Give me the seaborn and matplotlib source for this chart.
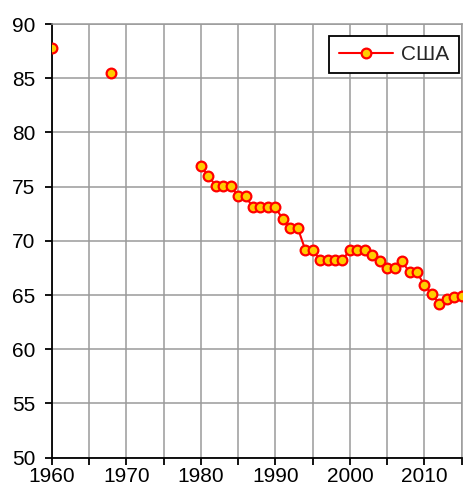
import pandas as pd
import seaborn as sns
import matplotlib
matplotlib.use("Agg")
import matplotlib.pyplot as plt
from matplotlib.ticker import MultipleLocator, FuncFormatter

# data
years = [1960, 1968,
         1980, 1981, 1982, 1983, 1984, 1985, 1986, 1987, 1988, 1989,
         1990, 1991, 1992, 1993, 1994, 1995, 1996, 1997, 1998, 1999,
         2000, 2001, 2002, 2003, 2004, 2005, 2006, 2007, 2008, 2009,
         2010, 2011, 2012, 2013, 2014, 2015]
values = [87.8, 85.5,
          76.9, 76.0, 75.1, 75.1, 75.1, 74.1, 74.1, 73.1, 73.1, 73.1,
          73.1, 72.0, 71.2, 71.2, 69.2, 69.2, 68.2, 68.2, 68.2, 68.2,
          69.2, 69.2, 69.2, 68.7, 68.1, 67.5, 67.5, 68.1, 67.1, 67.1,
          65.9, 65.1, 64.2, 64.6, 64.8, 64.95]
# segments: gaps in the record are not joined by the line
segments = [0, 1] + [2] * 36
series_name = "США"

df = pd.DataFrame({"Год": years, "Значение": values, "seg": segments})

sns.set_style("white")
plt.rcParams['font.family'] = ['Liberation Sans', 'DejaVu Sans']

fig = plt.figure(figsize=(4.63, 4.92), dpi=100)
ax = fig.add_axes([0.1117, 0.0697, 0.8855, 0.8815])

sns.lineplot(data=df, x="Год", y="Значение", units="seg", estimator=None,
             color="#FF0000", linewidth=1.5, marker="o", markersize=7,
             markerfacecolor="#FFCC00", markeredgecolor="#FF0000",
             markeredgewidth=1.6, ax=ax, zorder=3)

ax.set_xlim(1960, 2015)
ax.set_ylim(50, 90)
ax.xaxis.set_major_locator(MultipleLocator(5))
ax.yaxis.set_major_locator(MultipleLocator(5))
ax.xaxis.set_major_formatter(FuncFormatter(lambda v, p: f"{int(v)}" if int(v) % 10 == 0 else ""))
ax.grid(True, color="#9A9A9A", linewidth=1.1)
ax.set_axisbelow(True)

for s in ["left", "bottom"]:
    ax.spines[s].set_color("black")
    ax.spines[s].set_linewidth(1.3)
for s in ["top", "right"]:
    ax.spines[s].set_color("#9A9A9A")
    ax.spines[s].set_linewidth(1.1)

ax.tick_params(axis="both", direction="out", length=5, width=1.3, color="black",
               labelsize=15, labelcolor="black", bottom=True, left=True)
ax.tick_params(axis="y", pad=7)
ax.tick_params(axis="x", pad=2)
ax.set_xlabel("")
ax.set_ylabel("")

handle = ax.get_lines()[0]
leg = ax.legend([handle], [series_name], loc="upper right",
                bbox_to_anchor=(0.993, 0.973), fontsize=15,
                frameon=True, fancybox=False, handlelength=2.6,
                borderpad=0.45, handletextpad=0.4, borderaxespad=0)
leg.get_frame().set_edgecolor("black")
leg.get_frame().set_linewidth(1.3)
leg.get_frame().set_alpha(1)

fig.savefig("out.png", dpi=100)
